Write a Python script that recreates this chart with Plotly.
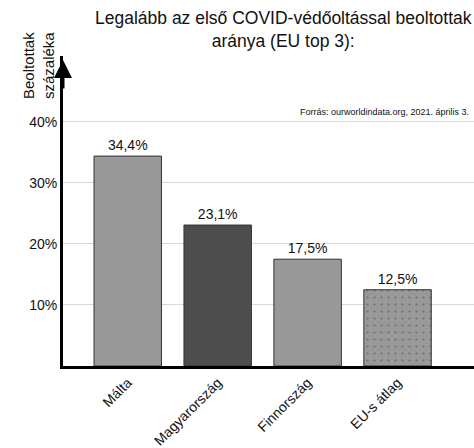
import plotly.graph_objects as go

categories = ["Málta", "Magyarország", "Finnország", "EU-s átlag"]
values = [34.4, 23.1, 17.5, 12.5]
bar_colors = ["#999999", "#4d4d4d", "#999999", "#999999"]
patterns = ["", "", "", "."]
y_ticks = [10, 20, 30, 40]
y_tick_labels = ["10%", "20%", "30%", "40%"]

FONT = "Liberation Sans, Arial, sans-serif"

fig = go.Figure()
fig.add_trace(go.Bar(
    x=categories,
    y=values,
    width=0.75,
    marker=dict(
        color=bar_colors,
        line=dict(color="#333333", width=1),
        pattern=dict(shape=patterns, fgcolor="#555555", bgcolor="#999999", size=7, solidity=0.08),
    ),
    texttemplate="%{y:.1f}%",
    textposition="outside",
    textfont=dict(size=14, color="#111111", family=FONT),
    cliponaxis=False,
))

fig.update_layout(
    width=474, height=448,
    margin=dict(l=63, r=0, t=56, b=82),
    plot_bgcolor="white", paper_bgcolor="white",
    separators=",.",
    showlegend=False,
    font=dict(family=FONT, color="#111111"),
    xaxis=dict(
        range=[-0.72, 3.85],
        showline=True, linecolor="black", linewidth=3,
        tickangle=-45, tickfont=dict(size=14, family=FONT, color="#111111"),
        showgrid=False, ticks="", fixedrange=True,
    ),
    yaxis=dict(
        range=[0, 50.8],
        tickvals=y_ticks, ticktext=y_tick_labels,
        tickfont=dict(size=14, family=FONT, color="#111111"),
        showgrid=True, gridcolor="#d9d9d9", gridwidth=1,
        showline=True, linecolor="black", linewidth=3,
        zeroline=False, ticks="", fixedrange=True,
    ),
)

fig.add_annotation(
    x=(283 - 63) / 411, xref="paper", y=(366 - 6) / 310, yref="paper",
    xanchor="center", yanchor="top", showarrow=False,
    text="Legalább az első COVID-védőoltással beoltottak<br>aránya (EU top 3):",
    font=dict(size=17.5, family=FONT, color="#111111"),
)
fig.add_annotation(
    x=0, xref="paper", y=(366 - 60) / 310, yref="paper",
    ax=0, ay=30, axref="pixel", ayref="pixel",
    showarrow=True, arrowhead=2, arrowsize=1.2, arrowwidth=3, arrowcolor="black",
    text="",
)
fig.add_annotation(
    x=(39 - 63) / 411, xref="paper", y=(366 - 66) / 310, yref="paper",
    xanchor="center", yanchor="middle",
    text="Beoltottak<br>százaléka", textangle=-90, showarrow=False,
    font=dict(size=15, family=FONT, color="#111111"),
)
fig.add_annotation(
    x=1, xref="paper", y=(366 - 112) / 310, yref="paper", xanchor="right", yanchor="middle",
    xshift=-3,
    text="Forrás: ourworldindata.org, 2021. április 3.", showarrow=False,
    font=dict(size=9, family=FONT, color="#111111"),
)

fig.write_html(
    "out.html",
    config={"displayModeBar": False},
    post_script="document.body.style.margin='0';document.body.style.overflow='hidden';",
)
